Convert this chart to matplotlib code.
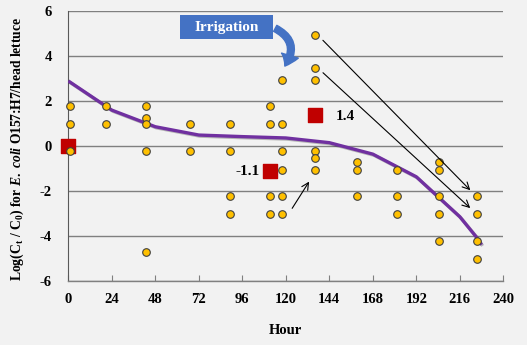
import matplotlib
matplotlib.use("Agg")
import matplotlib.pyplot as plt
from matplotlib.patches import FancyArrowPatch, Rectangle
import matplotlib.patheffects as pe

# ---- data ----
obs_hours = [1, 1, 1,
             21, 21,
             43, 43, 43, 43, 43,
             67, 67,
             89, 89, 89, 89,
             111.5, 111.5, 111.5, 111.5,
             118, 118, 118, 118, 118, 118,
             136, 136, 136, 136, 136, 136,
             159.5, 159.5, 159.5,
             181.5, 181.5, 181.5,
             204.5, 204.5, 204.5, 204.5, 204.5,
             225.5, 225.5, 225.5, 225.5]
obs_values = [1.78, 0.97, -0.22,
              1.78, 0.97,
              1.78, 1.26, 0.97, -0.22, -4.72,
              0.97, -0.22,
              0.97, -0.22, -2.21, -3.03,
              1.78, 0.97, -2.21, -3.03,
              2.95, 0.97, -0.22, -1.05, -2.21, -3.03,
              4.97, 3.47, 2.95, -0.22, -0.53, -1.05,
              -0.71, -1.05, -2.21,
              -1.05, -2.21, -3.03,
              -0.71, -1.05, -2.21, -3.03, -4.22,
              -2.21, -3.03, -4.22, -5.05]

model_hours = [0, 24, 48, 72, 96, 120, 144, 168, 192, 204, 216, 225, 228]
model_values = [2.9, 1.6, 0.86, 0.49, 0.42, 0.36, 0.15, -0.36, -1.37, -2.26, -3.15, -4.04, -4.4]

sq_hours = [0, 111.5, 136.3]
sq_values = [0.0, -1.13, 1.38]
sq_labels = ["", "-1.1", "1.4"]

x_ticks = [0, 24, 48, 72, 96, 120, 144, 168, 192, 216, 240]
y_ticks = [-6, -4, -2, 0, 2, 4, 6]

bg = "#f2f2f2"
plt.rcParams['font.family'] = ['Liberation Serif', 'DejaVu Serif']
plt.rcParams['mathtext.fontset'] = 'custom'
plt.rcParams['mathtext.rm'] = 'Liberation Serif:bold'
plt.rcParams['mathtext.it'] = 'Liberation Serif:italic:bold'
plt.rcParams['mathtext.bf'] = 'Liberation Serif:bold'

fig = plt.figure(figsize=(5.27, 3.45), dpi=100, facecolor=bg)
ax = fig.add_axes([0.1296, 0.1864, 0.8254, 0.7806])
ax.set_facecolor(bg)

ax.set_xlim(0, 240)
ax.set_ylim(-6, 6)
ax.set_xticks(x_ticks)
ax.set_yticks(y_ticks)
ax.set_xticklabels([str(t) for t in x_ticks], fontweight='bold', fontsize=10.5)
ax.set_yticklabels([str(t) for t in y_ticks], fontweight='bold', fontsize=10.5)
ax.tick_params(axis='x', direction='in', length=4, color='#808080', pad=9)
ax.tick_params(axis='y', length=0, pad=12)
ax.grid(axis='y', color='#808080', linewidth=1.0, zorder=0)
ax.set_axisbelow(True)
for s in ['top', 'right']:
    ax.spines[s].set_visible(False)
ax.spines['left'].set_color('#595959')
ax.spines['bottom'].set_color('#808080')
ax.spines['bottom'].set_linewidth(1.0)

# model line
ax.plot(model_hours, model_values, color='#7030A0', linewidth=2.4, zorder=3,
        solid_capstyle='butt',
        path_effects=[pe.SimpleLineShadow(offset=(0.8, -0.8), alpha=0.25), pe.Normal()])

# red squares
ax.scatter(sq_hours, sq_values, marker='s', s=110, color='#C00000', zorder=4, clip_on=False)

# observations
ax.scatter(obs_hours, obs_values, marker='o', s=30, color='#FFC000', edgecolor='#404040',
           linewidth=0.8, zorder=5, clip_on=False)

# labels for squares
ax.text(sq_hours[1] - 6, sq_values[1], sq_labels[1], ha='right', va='center',
        fontsize=11, fontweight='bold')
ax.text(sq_hours[2] + 11, sq_values[2] - 0.05, sq_labels[2], ha='left', va='center',
        fontsize=11, fontweight='bold')

# black arrows
arr_kw = dict(arrowstyle='->,head_length=0.5,head_width=0.25', color='black', lw=0.8)
ax.annotate('', xy=(222.9, -2.06), xytext=(139.4, 4.80), arrowprops=arr_kw, zorder=6)
ax.annotate('', xy=(222.9, -2.85), xytext=(139.4, 3.35), arrowprops=arr_kw, zorder=6)
ax.annotate('', xy=(133.7, -1.48), xytext=(122.7, -2.88), arrowprops=arr_kw, zorder=6)

# Irrigation box
ax.add_patch(Rectangle((61.7, 4.75), 51.1, 1.09, facecolor='#4472C4', edgecolor='none',
                       zorder=6, clip_on=False))
ax.text(87.2, 5.29, "Irrigation", ha='center', va='center', color='white',
        fontsize=11, fontweight='bold', zorder=7)
curve = FancyArrowPatch((112.8, 5.3), (118.6, 3.46),
                        connectionstyle='arc3,rad=-0.6',
                        arrowstyle='simple,head_length=0.6,head_width=0.9,tail_width=0.35',
                        mutation_scale=14, color='#4472C4', zorder=6, clip_on=False)
ax.add_patch(curve)

ax.set_xlabel("Hour", fontweight='bold', fontsize=10.5, labelpad=13)
ax.set_ylabel(r"Log(C$_\mathbf{t}$ / C$_\mathbf{0}$) for $E.\ coli$ O157:H7/head lettuce",
              fontweight='bold', fontsize=9.8)
ax.yaxis.set_label_coords(-0.097, 0.489)

fig.savefig("out.png", dpi=100, facecolor=bg)
